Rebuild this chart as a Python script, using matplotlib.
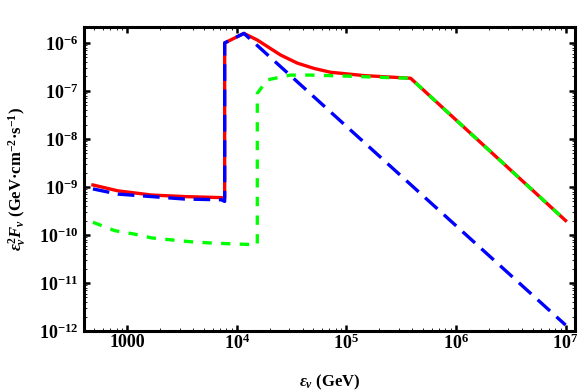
import math

import matplotlib
matplotlib.use("Agg")
from matplotlib import pyplot as plt
from matplotlib.ticker import LogLocator, FuncFormatter, NullFormatter

plt.rcParams["mathtext.fontset"] = "custom"
plt.rcParams["mathtext.rm"] = "Liberation Serif:bold"
plt.rcParams["mathtext.it"] = "Liberation Serif:italic:bold"
plt.rcParams["mathtext.bf"] = "Liberation Serif:bold"
plt.rcParams["font.family"] = "Liberation Serif"
plt.rcParams["font.weight"] = "bold"

# total (red, solid)
total_E = [485, 820, 1656, 3334, 7211, 7730, 7730, 11590, 15350, 25060, 35560,
           50470, 71610, 144200, 385000, 1.0e7]
total_F = [1.10e-9, 8.3e-10, 6.8e-10, 6.3e-10, 6.0e-10, 5.9e-10, 1.0e-6, 1.58e-6,
           1.15e-6, 5.6e-7, 3.8e-7, 2.95e-7, 2.45e-7, 2.09e-7, 1.84e-7, 2.0e-10]

# blue, long dashes
blue_E = [485, 820, 1656, 3334, 7211, 7730, 7730, 11590, 1.0e7]
blue_F = [9.1e-10, 7.1e-10, 6.3e-10, 5.6e-10, 5.4e-10, 5.0e-10, 1.0e-6, 1.58e-6, 1.33e-12]

# green, short dashes
green_E = [485, 766, 1167, 1656, 2518, 3837, 5834, 9528, 14520, 15350, 15350,
           18920, 30900, 46800, 100000, 234000, 385000, 1.0e7]
green_F = [1.84e-10, 1.23e-10, 1.04e-10, 8.7e-11, 7.9e-11, 7.2e-11, 6.8e-11, 6.5e-11,
           6.3e-11, 6.3e-11, 8.9e-8, 1.7e-7, 2.14e-7, 2.14e-7, 2.04e-7, 1.9e-7, 1.84e-7, 2.0e-10]

fig = plt.figure(figsize=(5.81, 3.91), dpi=100)
ax = fig.add_axes([0.1446, 0.1535, 0.9897 - 0.1446, 0.931 - 0.1535])

ax.plot(total_E, total_F, color="#ff0000", lw=2.4, zorder=2)
ax.plot(green_E, green_F, color="#00ff00", lw=2.4, dashes=(2.8, 2.8), zorder=3)
ax.plot(blue_E, blue_F, color="#0000ff", lw=2.4, dashes=(5.0, 2.6), zorder=4)

ax.set_xscale("log")
ax.set_yscale("log")
ax.set_xlim(402, 1.22e7)
ax.set_ylim(1e-12, 2.15e-6)

ax.xaxis.set_major_locator(LogLocator(base=10, numticks=10))
ax.yaxis.set_major_locator(LogLocator(base=10, numticks=10))
ax.xaxis.set_minor_locator(LogLocator(base=10, subs=range(2, 10), numticks=20))
ax.yaxis.set_minor_locator(LogLocator(base=10, subs=range(2, 10), numticks=20))
ax.xaxis.set_minor_formatter(NullFormatter())
ax.yaxis.set_minor_formatter(NullFormatter())


def xfmt(v, pos):
    if abs(v - 1000) < 1:
        return "1000"
    return r"$10^{%d}$" % round(math.log10(v))


def yfmt(v, pos):
    return r"$10^{%d}$" % round(math.log10(v))


ax.xaxis.set_major_formatter(FuncFormatter(xfmt))
ax.yaxis.set_major_formatter(FuncFormatter(yfmt))

ax.tick_params(which="major", direction="in", length=4, width=1.8, top=True, right=True,
               labelsize=13)
ax.tick_params(axis="x", which="major", pad=2)
ax.tick_params(axis="y", which="major", pad=4)
ax.tick_params(which="minor", direction="in", length=2, width=0.6, top=True, right=True)
for s in ax.spines.values():
    s.set_linewidth(2.2)

ax.set_xlabel(r"$\epsilon_\nu$ (GeV)", fontsize=12, fontweight="bold", labelpad=14)
ax.set_ylabel(r"$\epsilon_\nu^2 F_\nu$ (GeV·cm$^{-2}$·s$^{-1}$)", fontsize=12,
              fontweight="bold", labelpad=8)

fig.savefig("out.png", dpi=100)
